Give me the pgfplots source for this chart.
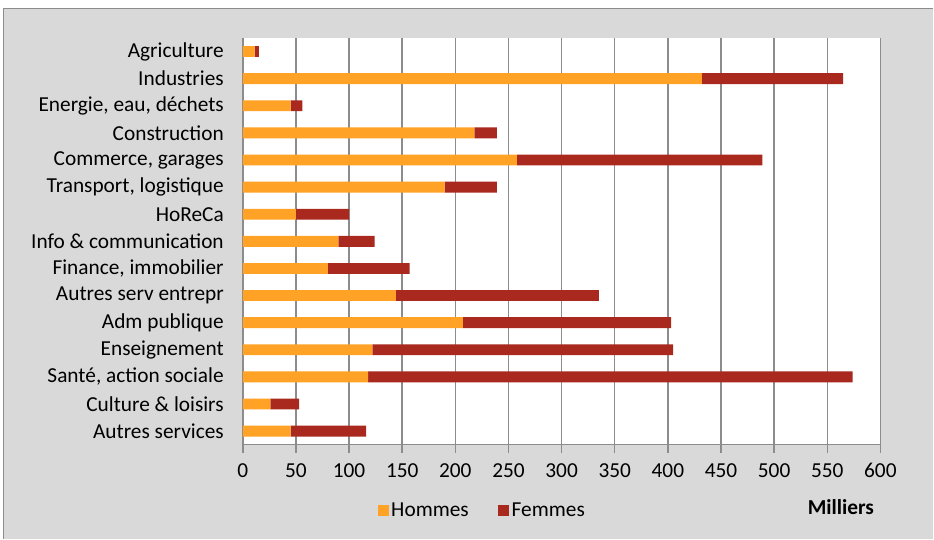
\documentclass[border=0pt]{standalone}
\usepackage{fontspec}
\setmainfont{Carlito}
\usepackage{pgfplots}
\pgfplotsset{compat=1.18}
\definecolor{hom}{RGB}{255,162,38}
\definecolor{fem}{RGB}{170,41,31}
\definecolor{bg}{RGB}{217,217,217}
\definecolor{grd}{RGB}{140,140,140}
\begin{document}
\begin{tikzpicture}[x=1pt,y=1pt]
\fill[white] (0,0) rectangle (700.5,404.25);
\fill[bg] (2.25,0) rectangle (700.5,398.25);
\draw[grd, line width=1pt] (2.75,0) -- (2.75,397.75) -- (700.5,397.75);
\begin{axis}[at={(182.25pt,70.5pt)}, anchor=south west, scale only axis,
  width=478.5pt, height=305.25pt, clip=false,
  xbar stacked, bar width=0.4,
  xmin=0, xmax=600, ymin=-0.5, ymax=14.5,
  xtick={0,50,...,600}, ytick={0,...,14},
  yticklabels={Autres services, Culture \& loisirs, {Santé, action sociale}, Enseignement, Adm publique, Autres serv entrepr, {Finance, immobilier}, Info \& communication, HoReCa, {Transport, logistique}, {Commerce, garages}, Construction, {Energie, eau, déchets}, Industries, Agriculture},
  axis x line*=bottom, axis y line*=left,
  axis line style={grd, line width=1.1pt, -},
  xmajorgrids, grid style={grd, line width=1.1pt},
  axis background/.style={fill=white},
  ytick style={draw=none},
  xtick style={grd, line width=1.1pt},
  tick align=outside, major tick length=6pt,
  /pgf/number format/assume math mode=true,
  ticklabel style={font=\fontsize{16}{19}\selectfont},
  yticklabel style={xshift=-4.8pt},
  xticklabel style={yshift=-4.5pt},
  legend style={at={(0.376,-0.162)}, anchor=center, draw=none, fill=none,
    legend columns=2, font=\fontsize{16}{19}\selectfont,
    /tikz/every even column/.append style={column sep=20pt}},
  legend image code/.code={\fill[#1] (0pt,-4.1pt) rectangle (8.25pt,4.1pt);},
]
\addplot[fill=hom, draw=none] coordinates {
(45,0) (26,1) (118,2) (122,3) (207,4) (144,5) (80,6) (90,7) (50,8) (190,9) (258,10) (218,11) (45,12) (432,13) (11,14)};
\addplot[fill=fem, draw=none] coordinates {
(71,0) (27,1) (456,2) (283,3) (196,4) (191,5) (77,6) (34,7) (50,8) (49,9) (231,10) (21,11) (11,12) (133,13) (4,14)};
\legend{Hommes, Femmes}
\node[font=\fontsize{16}{19}\selectfont\bfseries] at (axis description cs:0.938,-0.153) {Milliers};
\end{axis}
\end{tikzpicture}
\end{document}
